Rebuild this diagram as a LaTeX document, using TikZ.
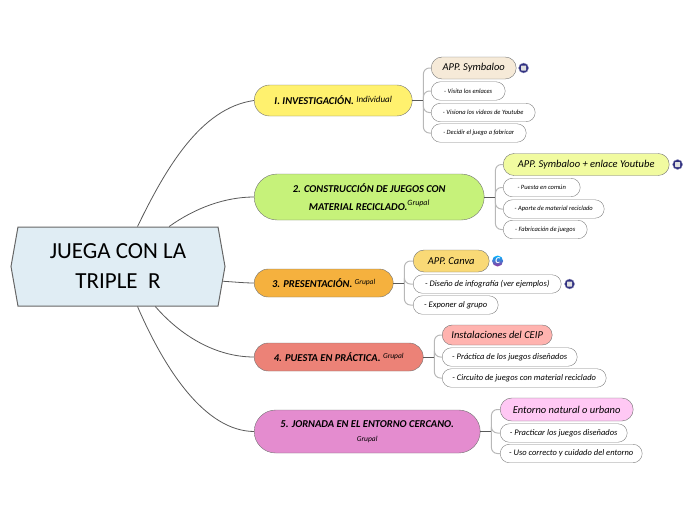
\documentclass[tikz,border=0pt]{standalone}
\usepackage{fontspec}
\setmainfont{Carlito}
\definecolor{rootfill}{HTML}{E0EDF4}
\definecolor{invcol}{HTML}{FFF16E}
\definecolor{concol}{HTML}{C6F27A}
\definecolor{precol}{HTML}{F5B13E}
\definecolor{puecol}{HTML}{EC8277}
\definecolor{jorcol}{HTML}{E48CCF}
\definecolor{iconcol}{HTML}{2F2F80}
\definecolor{symcol}{HTML}{F6EAD8}
\definecolor{sytcol}{HTML}{F1FBA0}
\definecolor{cancol}{HTML}{F9D976}
\definecolor{inscol}{HTML}{FFB3AF}
\definecolor{entcol}{HTML}{FFC8F4}
\usetikzlibrary{calc,positioning,shapes.misc,shapes.symbols}
\newcommand{\hand}[1]{\fontsize{#1}{#1}\selectfont\itshape}

\begin{document}
\begin{tikzpicture}[x=1pt,y=-1pt,
    rootbox/.style={signal,signal to=west and east,signal pointer angle=160,
                    draw=black!60,fill=rootfill,line width=1pt,inner sep=0pt,
                    minimum width=214pt,minimum height=79pt,align=center,
                    font=\fontsize{23}{23}\selectfont},
    branch/.style={rounded rectangle,draw=black!55,inner sep=0pt,anchor=west,
                   align=center,font=\hand{10.5}\bfseries},
    appbox/.style={rounded rectangle,draw=black!55,inner sep=0pt,anchor=west,
                   minimum height=22pt,align=center,font=\hand{10.5}},
    kid/.style={rounded rectangle,draw=black!50,fill=white,inner sep=0pt,anchor=west,
                minimum height=18.5pt,align=center,font=\hand{8.5}},
    tiny/.style={kid,font=\hand{6.5}},
    trunk/.style={draw=black!65,line width=1pt},
    twig/.style={draw=black!28,line width=1pt,rounded corners=6pt},
    limb/.style={draw=black!65,line width=0.8pt},
    listicon/.style={circle,fill=iconcol,draw=iconcol!50,inner sep=0pt,minimum size=10pt,
                     path picture={\fill[rounded corners=0.5pt,black!12]
                       ($(path picture bounding box.center)+(-2.5pt,-2.5pt)$) rectangle +(5pt,5pt);}},
    canvaicon/.style={circle,top color=cyan!70!blue,bottom color=violet!80,inner sep=0pt,
                      minimum size=11pt,text=white,font=\hand{9}\bfseries}]
  \useasboundingbox (0,0) rectangle (696,520);

  \node[rootbox] (root) at (118,266.5) {JUEGA CON LA\\[7pt]TRIPLE\ \ R};

  % branches
  \node[branch,fill=invcol,minimum width=158pt,minimum height=31pt] (inv) at (254,100.5)
    {I. INVESTIGACIÓN. \raisebox{2pt}{\hand{9}\mdseries Individual}};
  \node[branch,fill=concol,minimum width=230pt,minimum height=46pt] (con) at (254,197)
    {2. CONSTRUCCIÓN DE JUEGOS CON\\[7pt]MATERIAL RECICLADO.\raisebox{5pt}{\hand{8}\mdseries Grupal}};
  \node[branch,fill=precol,minimum width=139pt,minimum height=28pt] (pre) at (254,283)
    {3. PRESENTACIÓN. \raisebox{3pt}{\hand{7.5}\mdseries Grupal}};
  \node[branch,fill=puecol,minimum width=169pt,minimum height=28pt] (pue) at (254,357)
    {4. PUESTA EN PRÁCTICA. \raisebox{3pt}{\hand{7.5}\mdseries Grupal}};
  \node[branch,fill=jorcol,minimum width=226pt,minimum height=43pt] (jor) at (254,431.5)
    {5. JORNADA EN EL ENTORNO CERCANO.\\[3pt]{\hand{7.5}\mdseries Grupal}};

  \draw[limb] (root.64) .. controls (165,170) and (200,108) .. (inv.west);
  \draw[limb] (root.38) .. controls (195,208) and (225,197) .. (con.west);
  \draw[limb] (root.-8) .. controls (235,282) and (245,283) .. (pre.west);
  \draw[limb] (root.-47) .. controls (180,335) and (215,357) .. (pue.west);
  \draw[limb] (root.-64) .. controls (165,370) and (205,431) .. (jor.west);

  % first branch
  \node[appbox,fill=symcol,minimum width=85pt] (sym) at (431,68) {APP. Symbaloo};
  \node[tiny,minimum width=74pt] (vis) at (431,91) {- Visita los enlaces};
  \node[tiny,minimum width=104pt] (vid) at (431,112.5) {- Visiona los videos de Youtube};
  \node[tiny,minimum width=95pt] (dec) at (431,133) {- Decidir el juego a fabricar};
  \node[listicon,right=2pt of sym] (symic) {};
  \coordinate[right=11pt of inv.east] (invj);
  \draw[twig] (invj) |- (sym.west);
  \draw[twig] (invj) |- (dec.west);
  \draw[twig] (invj) |- (vis.west);
  \draw[twig] (invj) |- (vid.west);
  \draw[trunk] (inv.east) -- (invj);

  % second branch
  \node[appbox,fill=sytcol,minimum width=166pt] (syt) at (503,164.5) {APP. Symbaloo + enlace Youtube};
  \node[tiny,minimum width=77pt] (pue1) at (503,187.5) {- Puesta en común};
  \node[tiny,minimum width=101pt] (apo) at (503,209) {- Aporte de material reciclado};
  \node[tiny,minimum width=84pt] (fab) at (503,229.5) {- Fabricación de juegos};
  \node[listicon,right=3pt of syt] (sytic) {};
  \coordinate[right=11pt of con.east] (conj);
  \draw[twig] (conj) |- (syt.west);
  \draw[twig] (conj) |- (fab.west);
  \draw[twig] (conj) |- (pue1.west);
  \draw[twig] (conj) |- (apo.west);
  \draw[trunk] (con.east) -- (conj);

  % third branch
  \node[appbox,fill=cancol,minimum width=76pt] (can) at (413,261) {APP. Canva};
  \node[kid,minimum width=148pt] (dis) at (413,284) {- Diseño de infografía (ver ejemplos)};
  \node[kid,minimum width=85pt] (exp) at (413,305) {- Exponer al grupo};
  \node[canvaicon,right=2.5pt of can] (canic) {C};
  \node[listicon,right=3pt of dis] (disic) {};
  \coordinate[right=11pt of pre.east] (prej);
  \draw[twig] (prej) |- (can.west);
  \draw[twig] (prej) |- (exp.west);
  \draw[twig] (prej) |- (dis.west);
  \draw[trunk] (pre.east) -- (prej);

  % fourth branch
  \node[appbox,fill=inscol,minimum width=110pt,minimum height=20pt] (ins) at (442,335) {Instalaciones del CEIP};
  \node[kid,minimum width=135pt] (pra) at (442,357) {- Práctica de los juegos diseñados};
  \node[kid,minimum width=164pt] (cir) at (442,378) {- Circuito de juegos con material reciclado};
  \coordinate[right=11pt of pue.east] (puej);
  \draw[twig] (puej) |- (ins.west);
  \draw[twig] (puej) |- (cir.west);
  \draw[twig] (puej) |- (pra.west);
  \draw[trunk] (pue.east) -- (puej);

  % fifth branch
  \node[appbox,fill=entcol,minimum width=133pt,minimum height=23pt] (ent) at (500,409.5) {Entorno natural o urbano};
  \node[kid,minimum width=127pt] (pra2) at (500,433) {- Practicar los juegos diseñados};
  \node[kid,minimum width=142pt] (uso) at (500,453.5) {- Uso correcto y cuidado del entorno};
  \coordinate[right=11pt of jor.east] (jorj);
  \draw[twig] (jorj) |- (ent.west);
  \draw[twig] (jorj) |- (uso.west);
  \draw[twig] (jorj) |- (pra2.west);
  \draw[trunk] (jor.east) -- (jorj);
\end{tikzpicture}
\end{document}
